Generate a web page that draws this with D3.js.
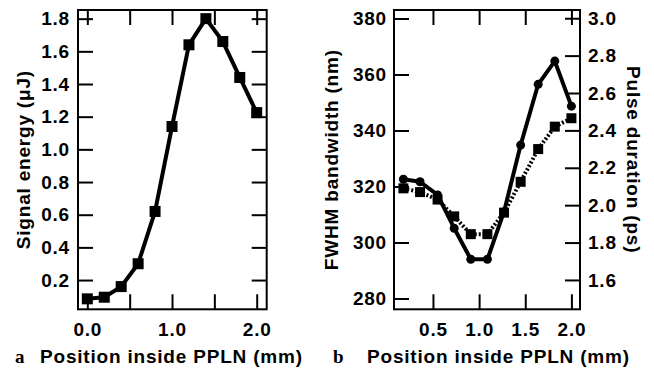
<!DOCTYPE html>
<html>
<head>
<meta charset="utf-8">
<script src="https://cdn.jsdelivr.net/npm/d3@7"></script>
<style>
  body { margin: 0; background: #fff; }
  svg text { font-family: "Liberation Sans", Arial, sans-serif; font-weight: bold; fill: #000; }
  .axis text { font-size: 19px; letter-spacing: 0.8px; }
  .axis line { stroke: #000; stroke-width: 2; }
  .axis path { display: none; }
</style>
</head>
<body>
<div id="chart"></div>
<script>
// panel a: signal energy vs position
const posA = [0.0, 0.2, 0.4, 0.6, 0.8, 1.0, 1.2, 1.4, 1.6, 1.8, 2.0];
const energy = [0.085, 0.095, 0.16, 0.30, 0.62, 1.14, 1.64, 1.80, 1.66, 1.44, 1.225];
const xTicksA = [0.0, 0.5, 1.0, 1.5, 2.0];
const xLabelsA = [0.0, 1.0, 2.0];
const yTicksA = [0.2, 0.4, 0.6, 0.8, 1.0, 1.2, 1.4, 1.6, 1.8];

// panel b: bandwidth (left axis) and pulse duration (right axis)
const posB = [0.18, 0.36, 0.55, 0.73, 0.91, 1.09, 1.27, 1.45, 1.64, 1.82, 2.0];
const bandwidth = [322.6, 321.7, 317.0, 305.1, 294.0, 294.0, 311.0, 334.8, 356.5, 364.8, 348.7];
const duration = [2.09, 2.07, 2.03, 1.94, 1.845, 1.845, 1.96, 2.125, 2.30, 2.42, 2.465];
const xTicksB = [0.5, 1.0, 1.5, 2.0];
const yTicksL = [280, 300, 320, 340, 360, 380];
const yTicksR = [1.6, 1.8, 2.0, 2.2, 2.4, 2.6, 2.8, 3.0];

const W = 654, H = 375, T = 15, yTop = 10, yBot = 309.3;
const f1 = d3.format(".1f");

const svg = d3.select('#chart').append('svg')
    .attr('width', W)
    .attr('height', H);

// ---------- panel a ----------
const xA = d3.scaleLinear().domain([-0.11, 2.118]).range([78, 266.7]);
const yA = d3.scaleLinear().domain([0.021, 1.853]).range([yBot, yTop]);

svg.append('g').attr('class', 'axis')
    .attr('transform', `translate(0,${yBot})`)
    .call(d3.axisBottom(xA).tickValues(xTicksA).tickSizeInner(-T).tickSizeOuter(0).tickPadding(13)
        .tickFormat(d => xLabelsA.includes(d) ? f1(d) : ''));
svg.append('g').attr('class', 'axis')
    .attr('transform', `translate(0,${yTop})`)
    .call(d3.axisTop(xA).tickValues(xTicksA).tickSizeInner(-T).tickSizeOuter(0).tickFormat(''));
svg.append('g').attr('class', 'axis')
    .attr('transform', `translate(78,0)`)
    .call(d3.axisLeft(yA).tickValues(yTicksA).tickSizeInner(-T).tickSizeOuter(0).tickPadding(8).tickFormat(f1));
svg.append('g').attr('class', 'axis')
    .attr('transform', `translate(266.7,0)`)
    .call(d3.axisRight(yA).tickValues(yTicksA).tickSizeInner(-T).tickSizeOuter(0).tickFormat(''));

svg.append('rect')
    .attr('x', 78).attr('y', yTop)
    .attr('width', 266.7 - 78).attr('height', yBot - yTop)
    .attr('fill', 'none').attr('stroke', '#000').attr('stroke-width', 2);

const lineA = d3.line().x((d, i) => xA(posA[i])).y(d => yA(d));
svg.append('path')
    .datum(energy)
    .attr('d', lineA)
    .attr('fill', 'none').attr('stroke', '#000').attr('stroke-width', 4)
    .attr('stroke-linejoin', 'round');
svg.append('g').selectAll('rect')
    .data(energy)
    .join('rect')
    .attr('x', (d, i) => xA(posA[i]) - 5.5)
    .attr('y', d => yA(d) - 5.5)
    .attr('width', 11).attr('height', 11)
    .attr('fill', '#000');

svg.append('text')
    .attr('transform', `translate(30,${(yTop + yBot) / 2}) rotate(-90)`)
    .attr('text-anchor', 'middle')
    .style('font-size', '19px').style('letter-spacing', '0.8px')
    .text('Signal energy (\u03bcJ)');

svg.append('text')
    .attr('x', 15).attr('y', 363)
    .style('font-family', '"Liberation Serif", serif')
    .style('font-size', '19px')
    .text('a');
svg.append('text')
    .attr('x', 40).attr('y', 363)
    .style('font-size', '19px').style('letter-spacing', '0.8px')
    .text('Position inside PPLN (mm)');

// ---------- panel b ----------
const xB = d3.scaleLinear().domain([0.078, 2.093]).range([394, 580]);
const yL = d3.scaleLinear().domain([276.14, 383.04]).range([yBot, yTop]);
const yR = d3.scaleLinear().domain([1.443, 3.044]).range([yBot, yTop]);

svg.append('g').attr('class', 'axis')
    .attr('transform', `translate(0,${yBot})`)
    .call(d3.axisBottom(xB).tickValues(xTicksB).tickSizeInner(-T).tickSizeOuter(0).tickPadding(13).tickFormat(f1));
svg.append('g').attr('class', 'axis')
    .attr('transform', `translate(0,${yTop})`)
    .call(d3.axisTop(xB).tickValues(xTicksB).tickSizeInner(-T).tickSizeOuter(0).tickFormat(''));
svg.append('g').attr('class', 'axis')
    .attr('transform', `translate(394,0)`)
    .call(d3.axisLeft(yL).tickValues(yTicksL).tickSizeInner(-T).tickSizeOuter(0).tickPadding(7));
svg.append('g').attr('class', 'axis')
    .attr('transform', `translate(580,0)`)
    .call(d3.axisRight(yR).tickValues(yTicksR).tickSizeInner(-T).tickSizeOuter(0).tickPadding(8).tickFormat(f1));

svg.append('rect')
    .attr('x', 394).attr('y', yTop)
    .attr('width', 580 - 394).attr('height', yBot - yTop)
    .attr('fill', 'none').attr('stroke', '#000').attr('stroke-width', 2);

const lineBw = d3.line().x((d, i) => xB(posB[i])).y(d => yL(d));
svg.append('path')
    .datum(bandwidth)
    .attr('d', lineBw)
    .attr('fill', 'none').attr('stroke', '#000').attr('stroke-width', 4)
    .attr('stroke-linejoin', 'round');
svg.append('g').selectAll('circle')
    .data(bandwidth)
    .join('circle')
    .attr('cx', (d, i) => xB(posB[i]))
    .attr('cy', d => yL(d))
    .attr('r', 4.5)
    .attr('fill', '#000');

const lineDur = d3.line().x((d, i) => xB(posB[i])).y(d => yR(d));
svg.append('path')
    .datum(duration)
    .attr('d', lineDur)
    .attr('fill', 'none').attr('stroke', '#000').attr('stroke-width', 4)
    .attr('stroke-dasharray', '2,2');
svg.append('g').selectAll('rect')
    .data(duration)
    .join('rect')
    .attr('x', (d, i) => xB(posB[i]) - 5)
    .attr('y', d => yR(d) - 5)
    .attr('width', 10).attr('height', 10)
    .attr('fill', '#000');

svg.append('text')
    .attr('transform', `translate(338,${(yTop + yBot) / 2}) rotate(-90)`)
    .attr('text-anchor', 'middle')
    .style('font-size', '19px').style('letter-spacing', '0.8px')
    .text('FWHM bandwidth (nm)');
svg.append('text')
    .attr('transform', `translate(627,${(yTop + yBot) / 2}) rotate(90)`)
    .attr('text-anchor', 'middle')
    .style('font-size', '19px').style('letter-spacing', '0.8px')
    .text('Pulse duration (ps)');

svg.append('text')
    .attr('x', 333).attr('y', 363)
    .style('font-family', '"Liberation Serif", serif')
    .style('font-size', '19px')
    .text('b');
svg.append('text')
    .attr('x', 367).attr('y', 363)
    .style('font-size', '19px').style('letter-spacing', '0.8px')
    .text('Position inside PPLN (mm)');
</script>
</body>
</html>
